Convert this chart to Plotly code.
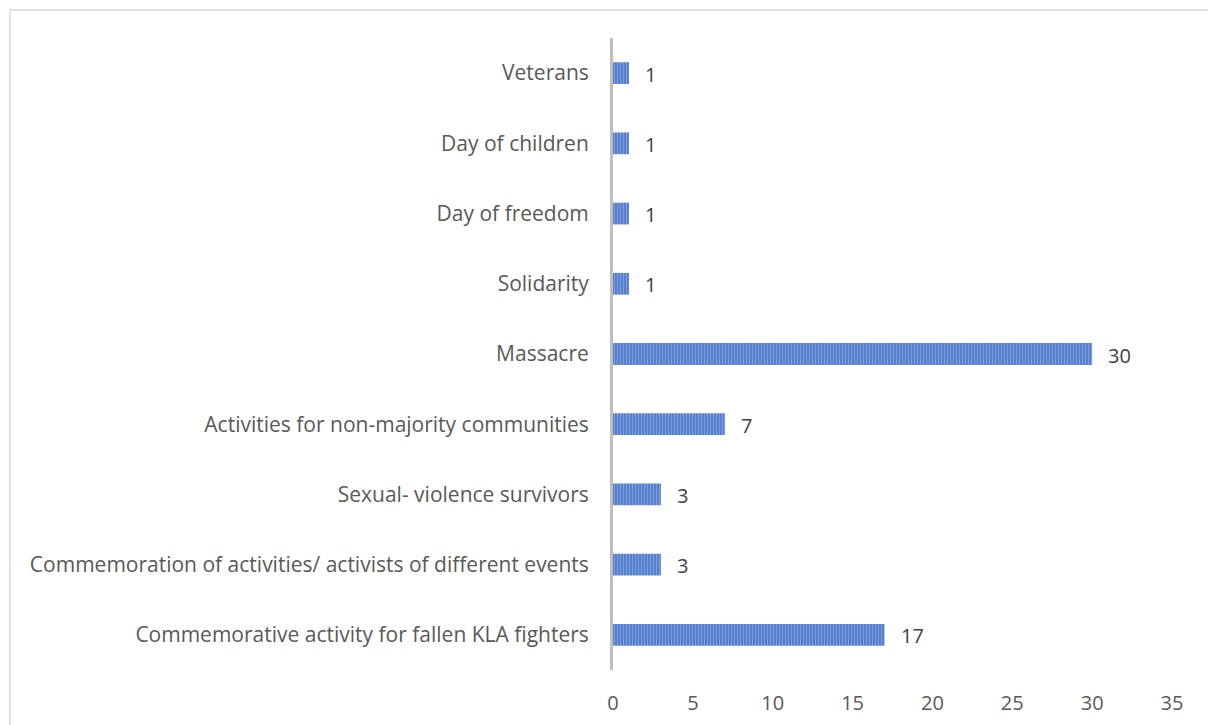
import plotly.graph_objects as go

categories = [
    "Veterans",
    "Day of children",
    "Day of freedom",
    "Solidarity",
    "Massacre",
    "Activities for non-majority communities",
    "Sexual- violence survivors",
    "Commemoration of activities/ activists of different events",
    "Commemorative activity for fallen KLA fighters",
]
values = [1, 1, 1, 1, 30, 7, 3, 3, 17]
x_ticks = [0, 5, 10, 15, 20, 25, 30, 35]

FONT = "Open Sans"
FS = 21
fig = go.Figure()
fig.add_trace(go.Bar(
    y=categories, x=values, orientation="h", width=0.31,
    marker=dict(color="#4472C4", line=dict(width=0),
                pattern=dict(shape="|", fgcolor="#B4C7EA", bgcolor="#4A78CA", size=3, solidity=0.45)),
    hoverinfo="x+y",
))
for c, v in zip(categories, values):
    fig.add_annotation(x=v, y=c, text=str(v), showarrow=False, xanchor="left", xshift=14,
                       yshift=-1, font=dict(family=FONT, size=FS - 1, color="#404040"))

W0, W1 = 613, 1172
T0, T1 = 38, 670
pw, ph = W1 - W0, T1 - T0
fig.add_shape(type="rect", xref="paper", yref="paper",
              x0=(10 - W0) / pw, x1=(1215 - W0) / pw,
              y0=(T1 - 735) / ph, y1=(T1 - 10) / ph,
              line=dict(color="#D9D9D9", width=1.5), fillcolor="rgba(0,0,0,0)", layer="below")

fig.update_layout(
    width=1208, height=725,
    margin=dict(l=W0, r=1208 - W1, t=T0, b=725 - T1),
    paper_bgcolor="white", plot_bgcolor="white",
    showlegend=False,
    font=dict(family=FONT, size=FS, color="#595959"),
    xaxis=dict(range=[0, 35], tickvals=x_ticks, showgrid=False, zeroline=False, showline=False,
               ticks="", ticklabelstandoff=19, automargin=False,
               tickfont=dict(size=FS - 1, color="#595959")),
    yaxis=dict(autorange="reversed", showgrid=False, zeroline=False, showline=True,
               linecolor="#BFBFBF", linewidth=3, ticks="", ticklabelstandoff=17, automargin=False,
               tickfont=dict(size=FS, color="#595959")),
)
fig.write_html("out.html")
